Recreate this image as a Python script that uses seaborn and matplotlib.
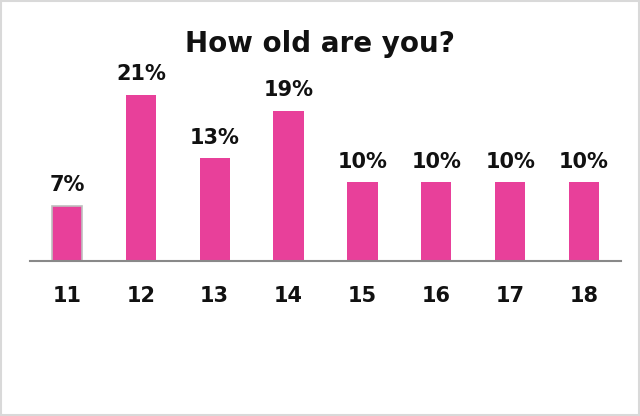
import matplotlib
matplotlib.use("Agg")
import matplotlib.pyplot as plt
import seaborn as sns
import pandas as pd
from matplotlib.patches import Rectangle

ages = ["11", "12", "13", "14", "15", "16", "17", "18"]
shares = [7, 21, 13, 19, 10, 10, 10, 10]
title = "How old are you?"

sns.set_theme(style="white")
plt.rcParams["font.family"] = ["DejaVu Sans"]

df = pd.DataFrame({"age": ages, "share": shares})

fig = plt.figure(figsize=(6.4, 4.16), dpi=100)
ax = fig.add_axes([30 / 640, (416 - 261) / 416, 591 / 640, 190 / 416])

pink = "#E8409A"
sns.barplot(data=df, x="age", y="share", color=pink, width=0.41,
            saturation=1, ax=ax, edgecolor=pink, linewidth=0)

# first bar carries a thin grey outline
first = ax.patches[0]
first.set_edgecolor("#BFBFBF")
first.set_linewidth(1.2)

for patch, v in zip(ax.patches, shares):
    ax.text(patch.get_x() + patch.get_width() / 2, v + 1.3, f"{v}%",
            ha="center", va="bottom", fontsize=15, fontweight="bold",
            color="#111111")

ax.set_xlim(-0.5, 7.5)
ax.set_ylim(0, 24)
ax.set_xlabel("")
ax.set_ylabel("")
ax.set_yticks([])
ax.tick_params(axis="x", length=0, pad=18, labelsize=15)
for lbl in ax.get_xticklabels():
    lbl.set_fontweight("bold")
    lbl.set_color("#111111")

for side in ["top", "right", "left"]:
    ax.spines[side].set_visible(False)
ax.spines["bottom"].set_color("#898989")
ax.spines["bottom"].set_linewidth(1.5)

fig.text(0.5, 1 - 44 / 416, title, ha="center", va="center",
         fontsize=20, fontweight="bold", color="#111111")

fig.patches.append(Rectangle((0.002, 0.003), 0.996, 0.994, transform=fig.transFigure,
                             fill=False, edgecolor="#D9D9D9", linewidth=1.5))

fig.savefig("out.png", dpi=100)
